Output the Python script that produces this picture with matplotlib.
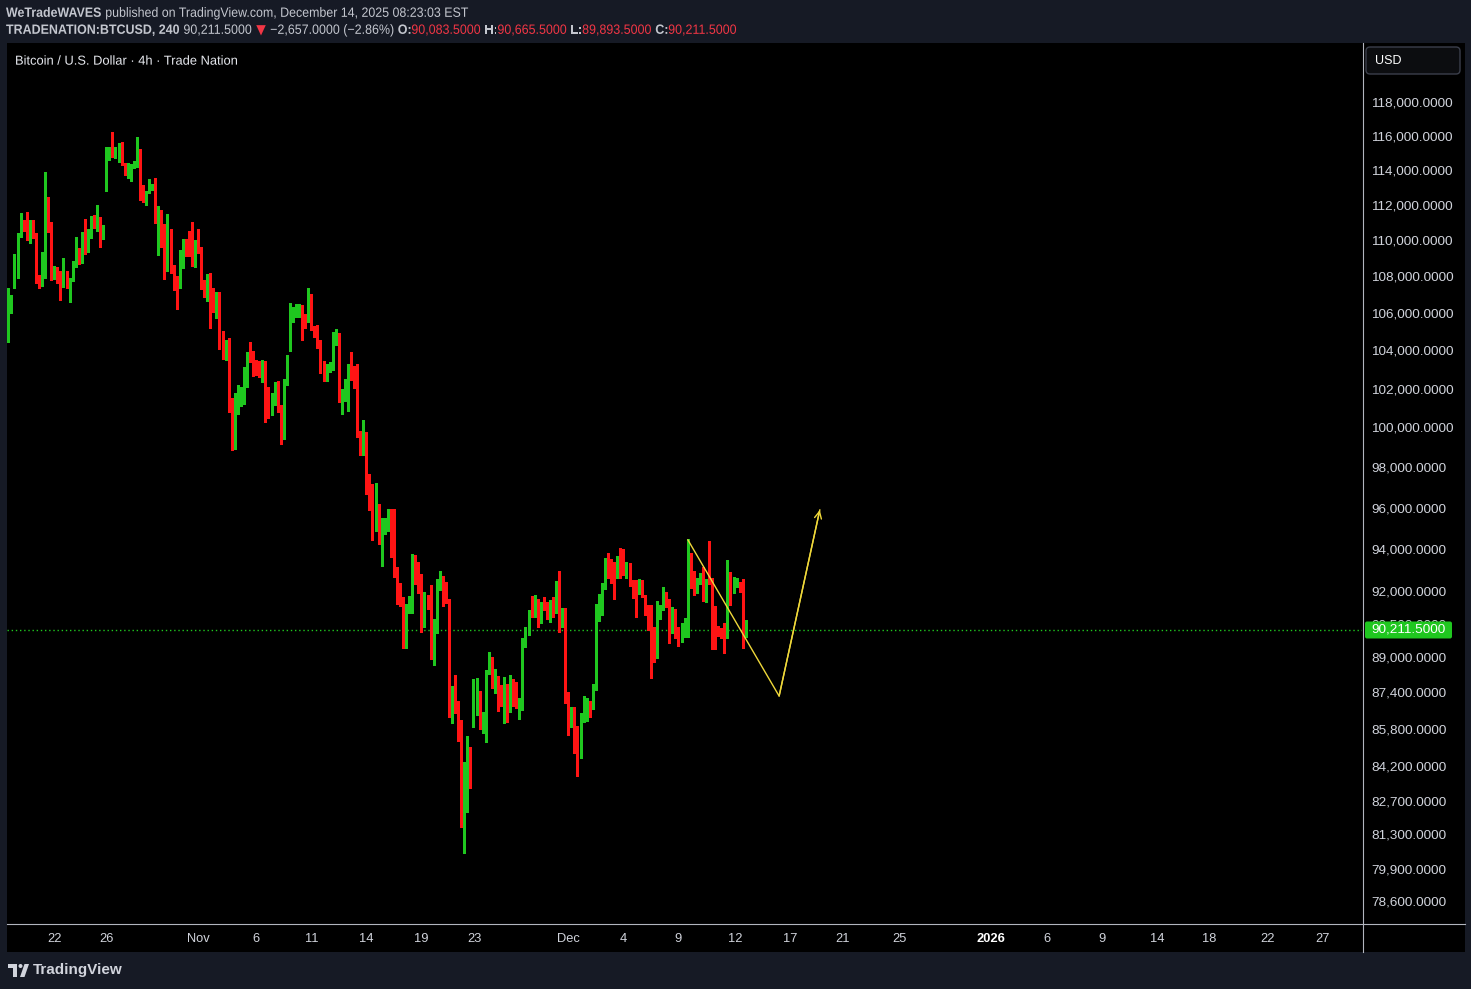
import matplotlib
matplotlib.use("Agg")
import matplotlib.pyplot as plt
from matplotlib.font_manager import FontProperties
from matplotlib.patches import Rectangle, FancyBboxPatch, Circle, Polygon, PathPatch
from matplotlib.lines import Line2D
from matplotlib.ticker import NullLocator, NullFormatter
from matplotlib.transforms import IdentityTransform, Affine2D
from matplotlib.textpath import TextPath

# BTCUSD 4h candles (Trade Nation)
opens = [105260, 106250, 107910, 107910, 110240, 110940, 110750, 110510, 111000, 110340,
         107730, 107610, 108710, 112430, 110730, 107880, 108480, 108190, 107910, 108060,
         107150, 107750, 108520, 109350, 108980, 110190, 109500, 110380, 111130, 110900,
         111180, 110100, 113180, 114630, 115160, 114860, 114900, 115390, 114410, 113800,
         113830, 114280, 114280, 115210, 112620, 112260, 112700, 112930, 113010, 110970,
         111350, 110470, 108430, 110620, 108240, 108010, 107330, 109170, 109950, 109950,
         109500, 108540, 109870, 109570, 107460, 107020, 107840, 107370, 106330, 106910,
         104140, 103720, 103790, 100980, 100430, 100700, 101630, 101830, 102820, 103810,
         103330, 103230, 103000, 102670, 103230, 101610, 101150, 101350, 102320, 100890,
         100120, 102270, 104240, 105560, 105920, 106280, 106430, 105880, 105520, 105980,
         105130, 104810, 104280, 103260, 102440, 103100, 103190, 104330, 104900, 101630,
         101800, 101830, 103020, 102700, 102230, 99560, 98770, 99160, 97400, 96700,
         95070, 95680, 93290, 94720, 95070, 95600, 93910, 92770, 91880, 91720,
         90180, 91360, 91440, 93240, 92570, 92420, 90410, 91440, 91360, 89420,
         90360, 92410, 92530, 91780, 91520, 87090, 87350, 86980, 86100, 82080,
         84010, 84790, 86930, 86930, 87350, 85850, 86030, 88240, 88840, 87620,
         88020, 87130, 86930, 87530, 86610, 87800, 87400, 86710, 87020, 89720,
         90030, 91020, 90820, 91440, 90720, 91330, 91280, 90670, 91520, 91470,
         92250, 90490, 91180, 87090, 85880, 86610, 85910, 84840, 86320, 86540,
         86930, 86660, 87620, 91330, 91680, 92110, 93530, 93270, 93050, 92820,
         93430, 93040, 92820, 93350, 92450, 92330, 92100, 92250, 91830, 91050,
         90390, 89250, 89800, 90750, 91210, 91830, 91360, 90130, 91180, 89980,
         89750, 89980, 90330, 93830, 92570, 92190, 92410, 92820, 91980, 92530,
         92350, 90590, 90240, 90130, 90030, 89880, 92850, 92030, 92300, 92450,
         92220, 90083.5]
highs = [107330, 106970, 109200, 110410, 111510, 111130, 111560, 111130, 111130, 110380,
         108060, 109350, 113890, 112450, 111000, 108540, 108500, 108280, 108980, 108280,
         107880, 108830, 110190, 109570, 110470, 111180, 110620, 111350, 111410, 111980,
         111280, 110850, 115310, 115310, 116230, 115350, 115550, 115610, 114410, 114410,
         114320, 114510, 115900, 115210, 113120, 112800, 113470, 113160, 113540, 111920,
         111690, 110880, 111470, 110620, 108610, 108010, 109440, 110060, 110060, 110510,
         111000, 110000, 110620, 109630, 107790, 108120, 108150, 107370, 107150, 107110,
         105030, 104550, 104640, 101490, 101750, 102180, 102090, 103100, 103900, 104440,
         103960, 103490, 103440, 103490, 103440, 102090, 101750, 102350, 102390, 101150,
         102490, 103750, 106550, 106330, 106480, 106480, 106430, 105920, 107370, 107020,
         105310, 105350, 104550, 103440, 103280, 103370, 104990, 105130, 104900, 101970,
         102490, 103280, 103900, 103190, 103280, 99820, 100380, 99780, 97660, 97160,
         97200, 96180, 95480, 95480, 95920, 95920, 95920, 93160, 92380, 91720,
         91410, 91780, 93770, 93720, 93400, 92820, 91980, 91830, 92300, 90700,
         92580, 92960, 92720, 92440, 91630, 87680, 88170, 87020, 86170, 84360,
         85470, 85010, 87980, 88050, 87470, 86540, 88390, 89220, 88990, 88420,
         88120, 87720, 88060, 87770, 88170, 87980, 87870, 87130, 89860, 90330,
         91130, 91780, 91830, 91630, 91520, 91720, 91520, 91600, 91720, 92500,
         92960, 91210, 91240, 87400, 86760, 86730, 85910, 86470, 87230, 87130,
         87010, 87770, 91410, 91880, 92380, 93560, 93830, 93510, 93400, 93670,
         94040, 94000, 93370, 93350, 92530, 92530, 92570, 92530, 91830, 91360,
         91360, 90360, 91560, 91360, 92190, 91980, 91640, 91260, 91180, 90360,
         90520, 90750, 94480, 93830, 92970, 92640, 92880, 93130, 92570, 94390,
         92610, 91320, 90390, 90290, 90520, 93480, 92900, 92690, 92610, 92450,
         92570, 90665.5]
lows = [104460, 105980, 107370, 107880, 110190, 110510, 110000, 109820, 110100, 107610,
        107370, 107460, 107910, 110470, 107790, 107840, 107610, 106700, 107420, 107330,
        106600, 107730, 108520, 108650, 108710, 109200, 109320, 110130, 110660, 110510,
        109630, 110060, 112800, 114570, 114760, 114670, 114440, 114280, 113700, 113510,
        113370, 114090, 114150, 112260, 112130, 111980, 112650, 112840, 110940, 109170,
        109630, 107840, 108300, 108150, 107240, 106210, 107330, 108460, 109130, 109130,
        108570, 108500, 109260, 107300, 106880, 106660, 105200, 106060, 105740, 104070,
        103540, 103490, 100770, 98860, 98910, 100670, 101110, 101200, 102090, 103370,
        102670, 102700, 102610, 102320, 100260, 100470, 100630, 101150, 100770, 99160,
        99410, 102180, 103960, 105490, 105790, 105790, 104550, 105200, 105490, 105060,
        104690, 104140, 102790, 102390, 102400, 102880, 102960, 104280, 101290, 100680,
        101350, 100850, 102440, 102010, 99500, 98610, 98610, 96670, 95890, 94440,
        94880, 94240, 93190, 94720, 94880, 93640, 92690, 91410, 91320, 89370,
        89370, 90980, 91010, 92350, 91940, 90130, 90330, 91160, 88880, 88620,
        90060, 92060, 91320, 91470, 86320, 86030, 86470, 85270, 81620, 80550,
        82250, 83230, 85880, 86390, 85770, 85620, 85230, 88210, 87570, 87380,
        86580, 86790, 86050, 86100, 86540, 86790, 86710, 86220, 86610, 89450,
        89980, 90790, 90790, 90360, 90520, 91130, 90700, 90590, 90790, 90980,
        90130, 90360, 86910, 85520, 85850, 84720, 83750, 84540, 86100, 86140,
        86320, 86660, 87500, 90640, 90900, 92100, 92610, 92380, 91640, 92610,
        92610, 92770, 92640, 92270, 91680, 90820, 91880, 91750, 90900, 90210,
        88050, 88770, 88950, 90700, 91130, 91260, 89620, 90060, 89830, 89480,
        89670, 89900, 89880, 92140, 91830, 91910, 92350, 91560, 91520, 92350,
        89330, 89330, 89940, 89830, 89170, 89830, 91360, 91910, 92220, 91980,
        89400, 89893.5]
closes = [106280, 106330, 108740, 110340, 111000, 110660, 110510, 110970, 110280, 107660,
          107610, 108650, 112430, 110620, 107910, 108500, 108120, 107880, 108100, 107550,
          107830, 108560, 109390, 109020, 110100, 109350, 110410, 111130, 110900, 111180,
          110100, 110510, 114630, 115160, 114800, 114920, 115390, 114280, 113760, 113890,
          114260, 114340, 115210, 112620, 112260, 112700, 112970, 113010, 110970, 111300,
          110410, 108390, 110560, 108190, 107970, 107330, 109170, 109950, 109890, 109390,
          108610, 109720, 109500, 107460, 107020, 107790, 107300, 106700, 106910, 104110,
          103720, 103820, 100980, 100190, 100580, 101730, 101870, 102860, 103810, 103490,
          103260, 103000, 102700, 103230, 101630, 100940, 101400, 102320, 100850, 100120,
          102230, 103650, 105620, 105920, 106300, 106460, 105850, 105470, 105920, 105120,
          104850, 104240, 103190, 102490, 103100, 103280, 104370, 104900, 101630, 101830,
          101890, 103020, 102670, 102220, 99530, 98690, 99150, 97400, 96700, 95070,
          95730, 94280, 94760, 95110, 95600, 93880, 92740, 91940, 91720, 90180,
          91410, 91470, 93240, 92450, 92380, 90410, 91470, 91320, 89420, 90520,
          92450, 92530, 91750, 91470, 87130, 87230, 86930, 86050, 82080, 84010,
          84790, 84470, 87720, 87380, 85850, 86030, 88270, 88690, 87620, 88020,
          87130, 86930, 87500, 86930, 87800, 87200, 86710, 87050, 89720, 90060,
          91020, 90820, 91440, 90750, 91330, 91280, 90700, 91490, 91470, 92250,
          90440, 91100, 87050, 85880, 86610, 85880, 84840, 86350, 86570, 86930,
          86640, 87650, 91360, 91520, 92140, 93530, 93040, 93040, 92820, 93610,
          92850, 92820, 93350, 92410, 92330, 92030, 92250, 91780, 91010, 90360,
          89220, 89220, 90790, 91240, 91830, 91360, 90130, 91210, 89940, 89750,
          90030, 90330, 93830, 92530, 92190, 92450, 92820, 91980, 92330, 92350,
          90540, 90210, 90130, 90030, 89880, 92770, 92030, 92350, 92450, 92140,
          89940, 90211.5]

price_ticks = [118000, 116000, 114000, 112000, 110000, 108000, 106000, 104000, 102000,
               100000, 98000, 96000, 94000, 92000, 90500, 89000, 87400, 85800, 84200,
               82700, 81300, 79900, 78600]
date_labels = ["22", "26", "Nov", "6", "11", "14", "19", "23", "Dec", "4", "9", "12",
               "17", "21", "25", "2026", "6", "9", "14", "18", "22", "27"]
date_bars = [15, 32, 62, 81, 99, 117, 135, 152.3, 183, 201, 219, 237.4,
             255.4, 272.5, 291.4, 321, 339.5, 357.4, 375.5, 392.5, 411.4, 429.4]

# hand drawn projection (bar index, price)
path_bars = [222.1, 251.9, 265.2]
path_prices = [94440, 87230, 95890]

W, H = 1471, 989
BG = "#161a25"
GREEN = "#1fc71f"
RED = "#ff1414"
TXT = "#d1d4dc"
YELLOW = "#efd83a"
SANS = "Liberation Sans"


def fx(x):
    return x / W


def fy(y):
    return 1 - y / H


fig = plt.figure(figsize=(W / 100, H / 100), dpi=100, facecolor=BG)

# black chart + scales background
fig.patches.append(Rectangle((fx(7), fy(952)), (1465 - 7) / W, (952 - 43) / H,
                             transform=fig.transFigure, facecolor="black",
                             edgecolor="none", zorder=-5))

ax = fig.add_axes([fx(7), fy(923), (1362 - 7) / W, (923 - 43) / H])
ax.set_facecolor("black")
for s in ax.spines.values():
    s.set_visible(False)
ax.set_yscale("log")

n = len(closes)
idx = list(range(n))
cols = [GREEN if c >= o else RED for o, c in zip(opens, closes)]
bottoms = [min(o, c) for o, c in zip(opens, closes)]
heights = [abs(c - o) for o, c in zip(opens, closes)]
ax.vlines(idx, lows, highs, colors=cols, linewidth=0.75, zorder=2, antialiased=False)
ax.bar(idx, heights, bottom=bottoms, width=0.62, color=cols, edgecolor=cols,
       linewidth=0.5, zorder=3, antialiased=False)

last = closes[-1]
ax.axhline(last, color=GREEN, lw=1, linestyle=(0, (1, 2)), zorder=1)

ax.plot(path_bars, path_prices, color=YELLOW, lw=1, zorder=4)
ax.annotate("", xy=(path_bars[-1], path_prices[-1]), xytext=(path_bars[-2], path_prices[-2]),
            arrowprops=dict(arrowstyle="->,head_length=0.5,head_width=0.25",
                            color=YELLOW, lw=1, shrinkA=0, shrinkB=0), zorder=4)

ax.set_xlim(-0.45, 442.4)
ax.set_ylim(77720, 121600)
ax.yaxis.tick_right()
ax.set_yticks(price_ticks)
ax.set_yticklabels([f"{p:,.4f}" for p in price_ticks])
ax.yaxis.set_minor_locator(NullLocator())
ax.yaxis.set_minor_formatter(NullFormatter())
ax.tick_params(axis="y", length=0, pad=6.5, labelsize=9.7, labelcolor=TXT)
for t in ax.get_yticklabels():
    t.set_family(SANS)

ax.set_xticks(date_bars)
ax.set_xticklabels(date_labels)
ax.tick_params(axis="x", length=0, pad=7, labelsize=9.3, labelcolor=TXT)
for t in ax.get_xticklabels():
    t.set_family(SANS)
    if t.get_text() == "2026":
        t.set_fontweight("bold")
        t.set_color("white")

# scale separators
fig.add_artist(Line2D([fx(1362.5)] * 2, [fy(43), fy(952)], transform=fig.transFigure,
                      color="#b2b5be", lw=0.8))
fig.add_artist(Line2D([fx(7), fx(1465)], [fy(923.5)] * 2, transform=fig.transFigure,
                      color="#b2b5be", lw=0.8))

# last price label
py = ax.transData.transform((0, last))[1]
fig.add_artist(FancyBboxPatch((1365, py - 8.5), 87, 17, boxstyle="round,pad=0,rounding_size=2",
                              transform=IdentityTransform(), fc=GREEN, ec="none", zorder=5))
fig.text(fx(1371), py / H, f"{last:,.4f}", color="white", fontsize=9.7, family=SANS,
         va="center", ha="left", zorder=6)

# currency button
fig.add_artist(FancyBboxPatch((1366, H - 74), 94, 27, boxstyle="round,pad=0,rounding_size=4",
                              transform=IdentityTransform(), fc="#0c0d10", ec="#3b3f4b", lw=1))
fig.text(fx(1375), fy(60.5), "USD", color="white", fontsize=9, family=SANS, va="center")


# header text, drawn as squeezed glyph outlines to mimic the narrow screenshot font
def runs(x, y, parts, target, em=13.5):
    paths, total = [], 0.0
    for part in parts:
        s, c, b = part[:3]
        fam = part[3] if len(part) > 3 else SANS
        tp = TextPath((0, 0), s, size=em,
                      prop=FontProperties(family=fam, weight="bold" if b else "normal"))
        w = tp.get_extents().x1 + 1.0
        paths.append((tp, c, w))
        total += w
    sx = target / total
    base = H - y - 0.716 * em / 2
    for tp, c, w in paths:
        tr = Affine2D().scale(sx, 1).translate(x, base)
        fig.add_artist(PathPatch(tp, transform=tr, fc=c, ec="none", lw=0))
        x += w * sx


GRAY = "#c3c6ce"
HRED = "#f23645"
runs(6, 12, [("WeTradeWAVES", GRAY, True),
             (" published on TradingView.com, December 14, 2025 08:23:03 EST", GRAY, False)],
     463)
runs(6, 29, [("TRADENATION:BTCUSD, 240", GRAY, True),
             (" 90,211.5000", GRAY, False),
             (" \u25bc", HRED, False, "DejaVu Sans"),
             (" \u22122,657.0000 (\u22122.86%)", GRAY, False),
             (" O:", GRAY, True), ("90,083.5000", HRED, False),
             (" H:", GRAY, True), ("90,665.5000", HRED, False),
             (" L:", GRAY, True), ("89,893.5000", HRED, False),
             (" C:", GRAY, True), ("90,211.5000", HRED, False)],
     731)
runs(15, 60, [("Bitcoin / U.S. Dollar \u00b7 4h \u00b7 Trade Nation", "#e6e8ee", False)],
     223, em=13)

# TradingView logo
fig.add_artist(Rectangle((8, H - 968), 9, 4, transform=IdentityTransform(), fc=TXT, ec="none"))
fig.add_artist(Rectangle((13, H - 977), 4, 13, transform=IdentityTransform(), fc=TXT, ec="none"))
fig.add_artist(Circle((20.5, H - 966), 2, transform=IdentityTransform(), fc=TXT, ec="none"))
fig.add_artist(Polygon([(20, H - 977), (24.5, H - 977), (29, H - 964), (24.5, H - 964)],
                       transform=IdentityTransform(), fc=TXT, ec="none"))
fig.text(fx(33), fy(970), "TradingView", color=TXT, fontsize=11, fontweight="bold",
         family=SANS, va="center")

fig.savefig("out.png", dpi=100, facecolor=BG)
